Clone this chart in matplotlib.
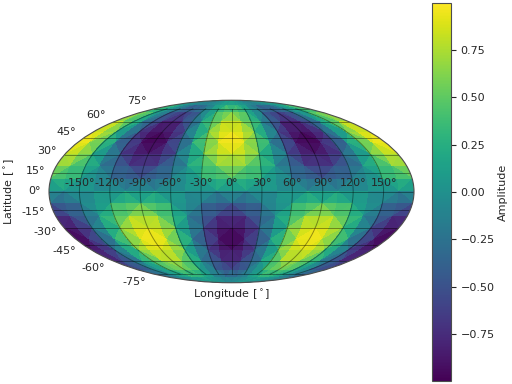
import numpy as np
import matplotlib
matplotlib.use('Agg')
import matplotlib.pyplot as plt

# amplitude, longitude -180..180 every 15 deg, latitude every 10 deg
lon_deg = np.arange(-180, 181, 15)
lat_deg = [89.9, 80, 70, 60, 50, 40, 30, 20, 10, 0, -10, -20, -30, -40, -50, -60, -70, -80, -89.9]

row_p90 = [0.02] * 25
row_p80 = [.22, .19, .10, -.02, -.12, -.20, -.22, -.19, -.10, .02, .12, .19, .22, .19, .12, .02, -.10, -.19, -.22, -.20, -.12, -.02, .10, .19, .22]
row_p70 = [.55, .47, .25, -.04, -.30, -.50, -.55, -.47, -.25, .04, .30, .48, .55, .48, .30, .04, -.25, -.47, -.55, -.50, -.30, -.04, .25, .47, .55]
row_p60 = [.81, .69, .36, -.06, -.45, -.73, -.81, -.69, -.36, .06, .43, .71, .81, .71, .43, .06, -.36, -.69, -.81, -.73, -.45, -.06, .36, .69, .81]
row_p50 = [.98, .83, .44, -.08, -.54, -.88, -.98, -.83, -.44, .08, .52, .86, .98, .86, .52, .08, -.44, -.83, -.98, -.88, -.54, -.08, .44, .83, .98]
row_p40 = [1., .85, .45, -.08, -.55, -.90, -1., -.85, -.45, .08, .53, .88, 1., .88, .53, .08, -.45, -.85, -1., -.90, -.55, -.08, .45, .85, 1.]
row_p30 = [.88, .75, .40, -.07, -.48, -.79, -.88, -.75, -.40, .07, .47, .77, .88, .77, .47, .07, -.40, -.75, -.88, -.79, -.48, -.07, .40, .75, .88]
row_p20 = [.68, .58, .31, -.05, -.37, -.61, -.68, -.58, -.31, .05, .36, .60, .68, .60, .36, .05, -.31, -.58, -.68, -.61, -.37, -.05, .31, .58, .68]
row_p10 = [.36, .31, .16, -.03, -.20, -.32, -.36, -.31, -.16, .03, .19, .32, .36, .32, .19, .03, -.16, -.31, -.36, -.32, -.20, -.03, .16, .31, .36]
row_000 = [0.0] * 25
row_m10 = [-.40, -.34, -.18, .03, .22, .36, .40, .34, .18, -.03, -.21, -.35, -.40, -.35, -.21, -.03, .18, .34, .40, .36, .22, .03, -.18, -.34, -.40]
row_m20 = [-.74, -.63, -.33, .06, .41, .67, .74, .63, .33, -.06, -.39, -.65, -.74, -.65, -.39, -.06, .33, .63, .74, .67, .41, .06, -.33, -.63, -.74]
row_m30 = [-.95, -.81, -.43, .08, .52, .86, .95, .81, .43, -.08, -.50, -.84, -.95, -.84, -.50, -.08, .43, .81, .95, .86, .52, .08, -.43, -.81, -.95]
row_m40 = [-1., -.85, -.45, .08, .55, .90, 1., .85, .45, -.08, -.53, -.88, -1., -.88, -.53, -.08, .45, .85, 1., .90, .55, .08, -.45, -.85, -1.]
row_m50 = [-.93, -.79, -.42, .07, .51, .84, .93, .79, .42, -.07, -.49, -.82, -.93, -.82, -.49, -.07, .42, .79, .93, .84, .51, .07, -.42, -.79, -.93]
row_m60 = [-.76, -.65, -.34, .06, .42, .68, .76, .65, .34, -.06, -.40, -.67, -.76, -.67, -.40, -.06, .34, .65, .76, .68, .42, .06, -.34, -.65, -.76]
row_m70 = [-.52, -.44, -.23, .04, .29, .47, .52, .44, .23, -.04, -.28, -.46, -.52, -.46, -.28, -.04, .23, .44, .52, .47, .29, .04, -.23, -.44, -.52]
row_m80 = [-.22, -.19, -.10, .02, .12, .20, .22, .19, .10, -.02, -.12, -.19, -.22, -.19, -.12, -.02, .10, .19, .22, .20, .12, .02, -.10, -.19, -.22]
row_m90 = [-0.02] * 25
rows = [row_p90, row_p80, row_p70, row_p60, row_p50, row_p40, row_p30, row_p20, row_p10, row_000,
        row_m10, row_m20, row_m30, row_m40, row_m50, row_m60, row_m70, row_m80, row_m90]

colorbar_ticks = [-0.75, -0.5, -0.25, 0, 0.25, 0.5, 0.75]

plt.rcParams['font.size'] = 8
plt.rcParams['text.color'] = '.15'
plt.rcParams['axes.labelcolor'] = '.15'
plt.rcParams['xtick.color'] = '.15'
plt.rcParams['ytick.color'] = '.15'
plt.rcParams['axes.edgecolor'] = '.3'

lon_grid, lat_grid = np.meshgrid(np.radians(lon_deg), np.radians(lat_deg))
x = lon_grid.ravel()
y = lat_grid.ravel()
z = np.array(rows).ravel()

# regular grid split into triangles, alternating the diagonal
n_lat, n_lon = lon_grid.shape
triangles = []
for i in range(n_lat - 1):
    for j in range(n_lon - 1):
        a, b = i * n_lon + j, i * n_lon + j + 1
        c, d = (i + 1) * n_lon + j, (i + 1) * n_lon + j + 1
        if (i + j) % 2 == 0:
            triangles += [[a, b, d], [a, d, c]]
        else:
            triangles += [[a, b, c], [b, d, c]]

fig = plt.figure(figsize=(5.12, 3.84), dpi=100)
ax = fig.add_axes([49 / 512, 101 / 384, 365 / 512, 183 / 384], projection='mollweide')
mesh = ax.tripcolor(x, y, np.array(triangles), z, cmap='viridis', vmin=-0.998, vmax=0.998)
ax.grid(True, color='k', linewidth=0.7, alpha=0.4)
ax.set_xlabel('Longitude [$^\\circ$]', labelpad=4)
ax.set_ylabel('Latitude [$^\\circ$]')

cax = fig.add_axes([432 / 512, 3 / 384, 19 / 512, 378 / 384])
cbar = fig.colorbar(mesh, cax=cax, ticks=colorbar_ticks)
cbar.set_label('Amplitude', labelpad=2)

fig.savefig('out.png', dpi=100)
